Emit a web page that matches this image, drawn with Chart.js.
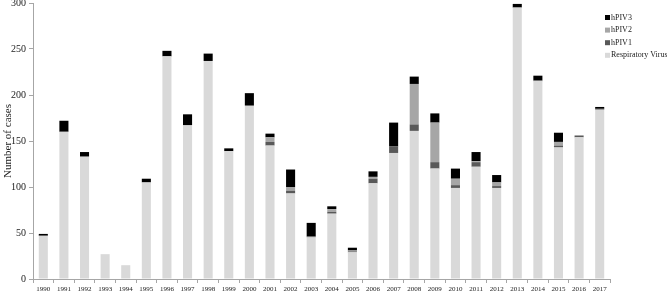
<!DOCTYPE html>
<html>
<head>
<meta charset="utf-8">
<script src="https://cdn.jsdelivr.net/npm/chart.js@4.4.1/dist/chart.umd.min.js"></script>
<style>
  html, body { margin: 0; padding: 0; background: #fff; }
  #wrap { width: 667px; height: 294px; position: relative; }
</style>
</head>
<body>
<div id="wrap"><canvas id="chart"></canvas></div>
<script>
const years = ["1990","1991","1992","1993","1994","1995","1996","1997","1998","1999",
  "2000","2001","2002","2003","2004","2005","2006","2007","2008","2009",
  "2010","2011","2012","2013","2014","2015","2016","2017"];

const respiratoryVirus = [47,160,133,27,15,105,242,167,237,139,188,145,93,45,71,29,104,137,161,120,99,122,99,295,215,143,154,184];
const hPIV1 = [0,0,0,0,0,0,0,0,0,0,1,4,3,0,2,1,5,7,7,7,3,5,2,0,1,2,2,1];
const hPIV2 = [0,0,0,0,0,0,0,0,0,0,0,5,4,1,3,1,2,0,44,43,7,1,4,0,0,4,0,0];
const hPIV3 = [2,12,5,0,0,4,6,12,8,3,13,4,19,15,3,3,6,26,8,10,11,10,8,4,5,10,0,2];

const yTicks = [0, 50, 100, 150, 200, 250, 300];

const serif = "'Liberation Serif', 'Times New Roman', serif";
const axisColor = "#a6a6a6";

// legend drawn at the top right, over the plot, newest series first
const cornerLegend = {
  id: "cornerLegend",
  afterDraw(chart) {
    const ctx = chart.ctx;
    const sets = chart.data.datasets.slice().reverse();
    ctx.save();
    ctx.font = "8px " + serif;
    ctx.textBaseline = "middle";
    sets.forEach((ds, i) => {
      const y = 17.5 + i * 12.6;
      ctx.fillStyle = ds.backgroundColor;
      ctx.fillRect(605, y - 2.5, 5, 5);
      ctx.fillStyle = "#222";
      ctx.fillText(ds.label, 611, y);
    });
    ctx.restore();
  }
};

new Chart(document.getElementById("chart"), {
  type: "bar",
  data: {
    labels: years,
    datasets: [
      { label: "Respiratory Virus", data: respiratoryVirus, backgroundColor: "#d9d9d9" },
      { label: "hPIV1", data: hPIV1, backgroundColor: "#595959" },
      { label: "hPIV2", data: hPIV2, backgroundColor: "#a6a6a6" },
      { label: "hPIV3", data: hPIV3, backgroundColor: "#000000" },
    ],
  },
  options: {
    responsive: true,
    maintainAspectRatio: false,
    animation: false,
    layout: { padding: { top: 0, right: 57, left: 0, bottom: 0 } },
    datasets: { bar: { categoryPercentage: 1, barPercentage: 0.44, borderWidth: 0 } },
    plugins: { legend: { display: false }, tooltip: { enabled: false } },
    scales: {
      x: {
        stacked: true,
        grid: { display: true, drawOnChartArea: false, color: axisColor, tickLength: 4, offset: true },
        border: { color: axisColor },
        ticks: { font: { family: serif, size: 7 }, color: "#222", maxRotation: 0, autoSkip: false, padding: 2 },
        afterFit(scale) { scale.height = 15; },
      },
      y: {
        stacked: true,
        min: 0,
        max: 300,
        afterBuildTicks(scale) { scale.ticks = yTicks.map(v => ({ value: v })); },
        grid: { display: true, drawOnChartArea: false, color: axisColor, tickLength: 4 },
        border: { color: axisColor },
        ticks: { font: { family: serif, size: 10 }, color: "#222", padding: 3 },
        title: { display: true, text: "Number of cases", font: { family: serif, size: 11 }, color: "#222", padding: { top: 2, bottom: 0 } },
        afterFit(scale) { scale.width = 33; scale.paddingTop = 3; },
      },
    },
  },
  plugins: [cornerLegend],
});
</script>
</body>
</html>
